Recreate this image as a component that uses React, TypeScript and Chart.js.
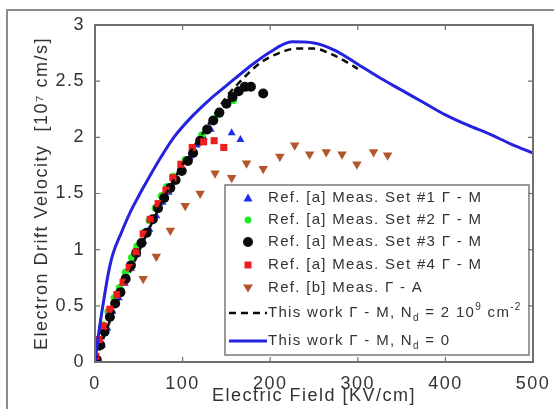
import React, { useEffect, useRef } from 'react';
import { Chart, registerables } from 'chart.js';

Chart.register(...registerables);

// ---------- data ----------
const xTickStep = 100;
const yTickStep = 0.5;
const xMax = 500;
const yMax = 3;

const set1Field = [1, 3, 8, 14, 20, 27, 34, 41, 48, 55, 62, 70, 77, 84, 92, 100, 108, 116, 124, 132, 156, 166];
const set1Vel = [0.0, 0.02, 0.15, 0.3, 0.45, 0.57, 0.7, 0.83, 0.96, 1.07, 1.18, 1.3, 1.42, 1.51, 1.62, 1.72, 1.82, 1.93, 2.0, 2.07, 2.04, 1.98];

const set2Field = [4, 9, 15, 22, 28, 35, 42, 48, 56, 62, 69, 76, 82, 89, 103, 122, 140, 158, 173];
const set2Vel = [0.2, 0.33, 0.45, 0.57, 0.66, 0.8, 0.93, 1.03, 1.15, 1.26, 1.37, 1.48, 1.56, 1.65, 1.8, 2.02, 2.2, 2.33, 2.44];

const set3Field = [2, 6, 11, 17, 23, 29, 35, 41, 47, 53, 59, 66, 72, 79, 86, 92, 99, 106, 112, 120, 128, 135, 142, 150, 157, 164, 171, 178, 192];
const set3Vel = [0.02, 0.15, 0.27, 0.4, 0.52, 0.62, 0.74, 0.86, 0.97, 1.06, 1.15, 1.27, 1.37, 1.46, 1.55, 1.62, 1.7, 1.79, 1.86, 1.97, 2.07, 2.15, 2.22, 2.3, 2.36, 2.41, 2.45, 2.45, 2.39];

const set4Field = [1, 5, 10, 17, 25, 32, 39, 47, 55, 63, 72, 81, 89, 98, 111, 124, 136, 147];
const set4Vel = [0.05, 0.2, 0.32, 0.47, 0.6, 0.71, 0.84, 0.98, 1.14, 1.27, 1.41, 1.53, 1.64, 1.76, 1.91, 1.96, 1.97, 1.91];

const refBField = [55, 70, 86, 103, 120, 137, 156, 173, 192, 211, 228, 245, 264, 282, 299, 318, 334];
const refBVel = [0.74, 0.94, 1.17, 1.39, 1.5, 1.68, 1.64, 1.77, 1.72, 1.83, 1.93, 1.85, 1.87, 1.85, 1.76, 1.87, 1.84];

const dashField = [0, 10, 25, 50, 75, 100, 125, 150, 160, 175, 190, 210, 230, 250, 270, 285, 300];
const dashVel = [0, 0.22, 0.52, 0.98, 1.4, 1.76, 2.06, 2.36, 2.45, 2.57, 2.67, 2.75, 2.79, 2.79, 2.74, 2.68, 2.61];

const solidField = [0, 2, 5, 10, 15, 20, 30, 40, 50, 60, 75, 90, 110, 130, 150, 175, 200, 225, 250, 275, 300, 325, 350, 375, 400, 425, 450, 475, 500];
const solidVel = [0, 0.12, 0.3, 0.55, 0.78, 0.95, 1.15, 1.33, 1.48, 1.62, 1.82, 2.0, 2.18, 2.33, 2.46, 2.62, 2.76, 2.85, 2.84, 2.77, 2.65, 2.53, 2.42, 2.31, 2.2, 2.11, 2.03, 1.94, 1.86];

const legendLabels = [
  [{ t: 'Ref. [a] Meas. Set #1 Γ - M' }],
  [{ t: 'Ref. [a] Meas. Set #2 Γ - M' }],
  [{ t: 'Ref. [a] Meas. Set #3 Γ - M' }],
  [{ t: 'Ref. [a] Meas. Set #4 Γ - M' }],
  [{ t: 'Ref. [b] Meas. Γ - A' }],
  [{ t: 'This work Γ - M, N' }, { t: 'd', sub: true }, { t: ' = 2 10' }, { t: '9', sup: true }, { t: ' cm' }, { t: '-2', sup: true }],
  [{ t: 'This work Γ - M, N' }, { t: 'd', sub: true }, { t: ' = 0' }],
];

const xTitle = 'Electric Field [KV/cm]';
const yTitle = 'Electron Drift Velocity  [10⁷ cm/s]';

// ---------- styles ----------
const FONT = '"Liberation Sans", Arial, Helvetica, sans-serif';
const TEXT = '#333333';
const C_BLUE_LINE = '#2323e0';
const C_BLUE = '#1f2bf0';
const C_GREEN = '#22ee22';
const C_BLACK = '#0a0a0a';
const C_RED = '#ee1c1c';
const C_BROWN = '#b4562c';

const zip = (xs: number[], ys: number[]) => xs.map((x, i) => ({ x, y: ys[i] }));

function drawMarker(ctx: CanvasRenderingContext2D, kind: string, x: number, y: number, color: string) {
  ctx.save();
  ctx.fillStyle = color;
  ctx.beginPath();
  if (kind === 'triangle') {
    ctx.moveTo(x, y - 4.5);
    ctx.lineTo(x + 4.5, y + 3.5);
    ctx.lineTo(x - 4.5, y + 3.5);
    ctx.closePath();
  } else if (kind === 'down') {
    ctx.moveTo(x, y + 4.5);
    ctx.lineTo(x + 5, y - 3.5);
    ctx.lineTo(x - 5, y - 3.5);
    ctx.closePath();
  } else if (kind === 'rect') {
    ctx.rect(x - 3.5, y - 3.5, 7, 7);
  } else if (kind === 'small') {
    ctx.arc(x, y, 3.5, 0, Math.PI * 2);
  } else {
    ctx.arc(x, y, 5, 0, Math.PI * 2);
  }
  ctx.fill();
  ctx.restore();
}

function drawRich(ctx: CanvasRenderingContext2D, x: number, y: number, segs: any[], size: number) {
  let cx = x;
  for (const s of segs) {
    const fs = s.sub || s.sup ? Math.round(size * 0.65) : size;
    ctx.font = `${fs}px ${FONT}`;
    const dy = s.sub ? size * 0.35 : s.sup ? -size * 0.4 : 0;
    ctx.fillText(s.t, cx, y + dy);
    cx += ctx.measureText(s.t).width;
  }
}

const framePlugin = {
  id: 'frame',
  beforeDraw(chart: any) {
    const { ctx, width, height } = chart;
    ctx.save();
    ctx.fillStyle = '#ffffff';
    ctx.fillRect(0, 0, width, height);
    ctx.strokeStyle = '#8c8c8c';
    ctx.lineWidth = 2;
    ctx.beginPath();
    ctx.moveTo(7, height + 2);
    ctx.lineTo(7, 10);
    ctx.lineTo(width + 2, 10);
    ctx.stroke();
    ctx.restore();
    ctx.letterSpacing = '1.5px';
  },
  afterDatasetsDraw(chart: any) {
    const { ctx, chartArea: a, scales } = chart;
    ctx.save();
    ctx.letterSpacing = '0px';

    // legend
    const lx = 225, ly = 185, lw = 304, lh = 170;
    ctx.fillStyle = '#ffffff';
    ctx.fillRect(lx, ly, lw, lh);
    ctx.strokeStyle = '#7a7a7a';
    ctx.lineWidth = 1.5;
    ctx.strokeRect(lx, ly, lw, lh);

    const rowOffsets = [13, 35, 57, 80, 103, 128, 156];
    const kinds = ['triangle', 'small', 'circle', 'rect', 'down', 'dash', 'line'];
    const colors = [C_BLUE, C_GREEN, C_BLACK, C_RED, C_BROWN, C_BLACK, C_BLUE_LINE];
    ctx.textBaseline = 'middle';
    ctx.textAlign = 'left';
    for (let i = 0; i < legendLabels.length; i++) {
      const y = ly + rowOffsets[i];
      const k = kinds[i];
      if (k === 'dash' || k === 'line') {
        ctx.save();
        ctx.strokeStyle = colors[i];
        ctx.lineWidth = k === 'line' ? 3 : 2.5;
        ctx.setLineDash(k === 'dash' ? [7, 5] : []);
        ctx.beginPath();
        ctx.moveTo(lx + 4, y);
        ctx.lineTo(lx + 42, y);
        ctx.stroke();
        ctx.restore();
      } else {
        drawMarker(ctx, k, lx + 23, y, colors[i]);
      }
      ctx.fillStyle = TEXT;
      ctx.letterSpacing = '1.3px';
      drawRich(ctx, lx + 43, y, legendLabels[i], 15);
      ctx.letterSpacing = '0px';
    }

    // axes box
    ctx.strokeStyle = '#707070';
    ctx.lineWidth = 2;
    ctx.strokeRect(a.left, a.top, a.right - a.left, a.bottom - a.top);

    // inward ticks
    ctx.lineWidth = 1.2;
    ctx.beginPath();
    for (let v = 0; v <= xMax; v += xTickStep) {
      const px = scales.x.getPixelForValue(v);
      ctx.moveTo(px, a.bottom);
      ctx.lineTo(px, a.bottom - 5);
      ctx.moveTo(px, a.top);
      ctx.lineTo(px, a.top + 5);
    }
    for (let v = 0; v <= yMax + 1e-9; v += yTickStep) {
      const py = scales.y.getPixelForValue(v);
      ctx.moveTo(a.left, py);
      ctx.lineTo(a.left + 5, py);
      ctx.moveTo(a.right, py);
      ctx.lineTo(a.right - 5, py);
    }
    ctx.stroke();
    ctx.restore();
    ctx.letterSpacing = '1.5px';
  },
};

export default function App() {
  const ref = useRef<HTMLCanvasElement | null>(null);

  useEffect(() => {
    if (!ref.current) return;
    const pointDs = (label: string, xs: number[], ys: number[], color: string, style: any, radius: number, order: number, rotation = 0) => ({
      label,
      data: zip(xs, ys),
      showLine: false,
      pointStyle: style,
      pointRadius: radius,
      pointRotation: rotation,
      pointBackgroundColor: color,
      pointBorderColor: color,
      pointBorderWidth: 0,
      order,
    });

    const chart = new Chart(ref.current, {
      type: 'scatter',
      data: {
        datasets: [
          {
            label: 'This work Γ - M, Nd = 0',
            data: zip(solidField, solidVel),
            showLine: true,
            borderColor: C_BLUE_LINE,
            borderWidth: 3,
            pointRadius: 0,
            cubicInterpolationMode: 'monotone',
            order: 0,
          } as any,
          {
            label: 'This work Γ - M, Nd = 2 10^9 cm^-2',
            data: zip(dashField, dashVel),
            showLine: true,
            borderColor: C_BLACK,
            borderWidth: 2.5,
            borderDash: [7, 5],
            pointRadius: 0,
            cubicInterpolationMode: 'monotone',
            order: 1,
          } as any,
          pointDs('Ref. [a] Meas. Set #4 Γ - M', set4Field, set4Vel, C_RED, 'rect', 5, 2),
          pointDs('Ref. [a] Meas. Set #3 Γ - M', set3Field, set3Vel, C_BLACK, 'circle', 5, 3),
          pointDs('Ref. [a] Meas. Set #2 Γ - M', set2Field, set2Vel, C_GREEN, 'circle', 3.8, 4),
          pointDs('Ref. [a] Meas. Set #1 Γ - M', set1Field, set1Vel, C_BLUE, 'triangle', 4.6, 5),
          pointDs('Ref. [b] Meas. Γ - A', refBField, refBVel, C_BROWN, 'triangle', 5.5, 6, 180),
        ],
      },
      options: {
        animation: false,
        responsive: false,
        devicePixelRatio: 1,
        layout: { padding: { left: 0, top: 25, right: 21, bottom: 0 } },
        plugins: {
          legend: { display: false },
          tooltip: { enabled: false },
        },
        scales: {
          x: {
            type: 'linear',
            min: 0,
            max: xMax,
            grid: { display: false },
            border: { display: false },
            ticks: {
              stepSize: xTickStep,
              color: TEXT,
              font: { family: FONT, size: 18 },
              padding: 3,
              maxRotation: 0,
              callback: (v: any) => String(Number(v)),
            },
            title: {
              display: true,
              text: xTitle,
              color: TEXT,
              font: { family: FONT, size: 18 },
              padding: { top: 0, bottom: 2 },
            },
            afterFit: (s: any) => {
              s.height = 47;
            },
          },
          y: {
            type: 'linear',
            min: 0,
            max: yMax,
            grid: { display: false },
            border: { display: false },
            ticks: {
              stepSize: yTickStep,
              color: TEXT,
              font: { family: FONT, size: 18 },
              padding: 2,
              callback: (v: any) => String(Number(v)),
            },
            title: {
              display: true,
              text: yTitle,
              color: TEXT,
              font: { family: FONT, size: 18 },
              padding: { top: 31, bottom: 0 },
            },
            afterFit: (s: any) => {
              s.width = 95;
            },
          },
        },
      } as any,
      plugins: [framePlugin],
    });
    return () => chart.destroy();
  }, []);

  return (
    <div style={{ position: 'absolute', left: 0, top: 0, width: 554, height: 409, background: '#fff' }}>
      <canvas ref={ref} width={554} height={409} style={{ display: 'block' }} />
    </div>
  );
}
